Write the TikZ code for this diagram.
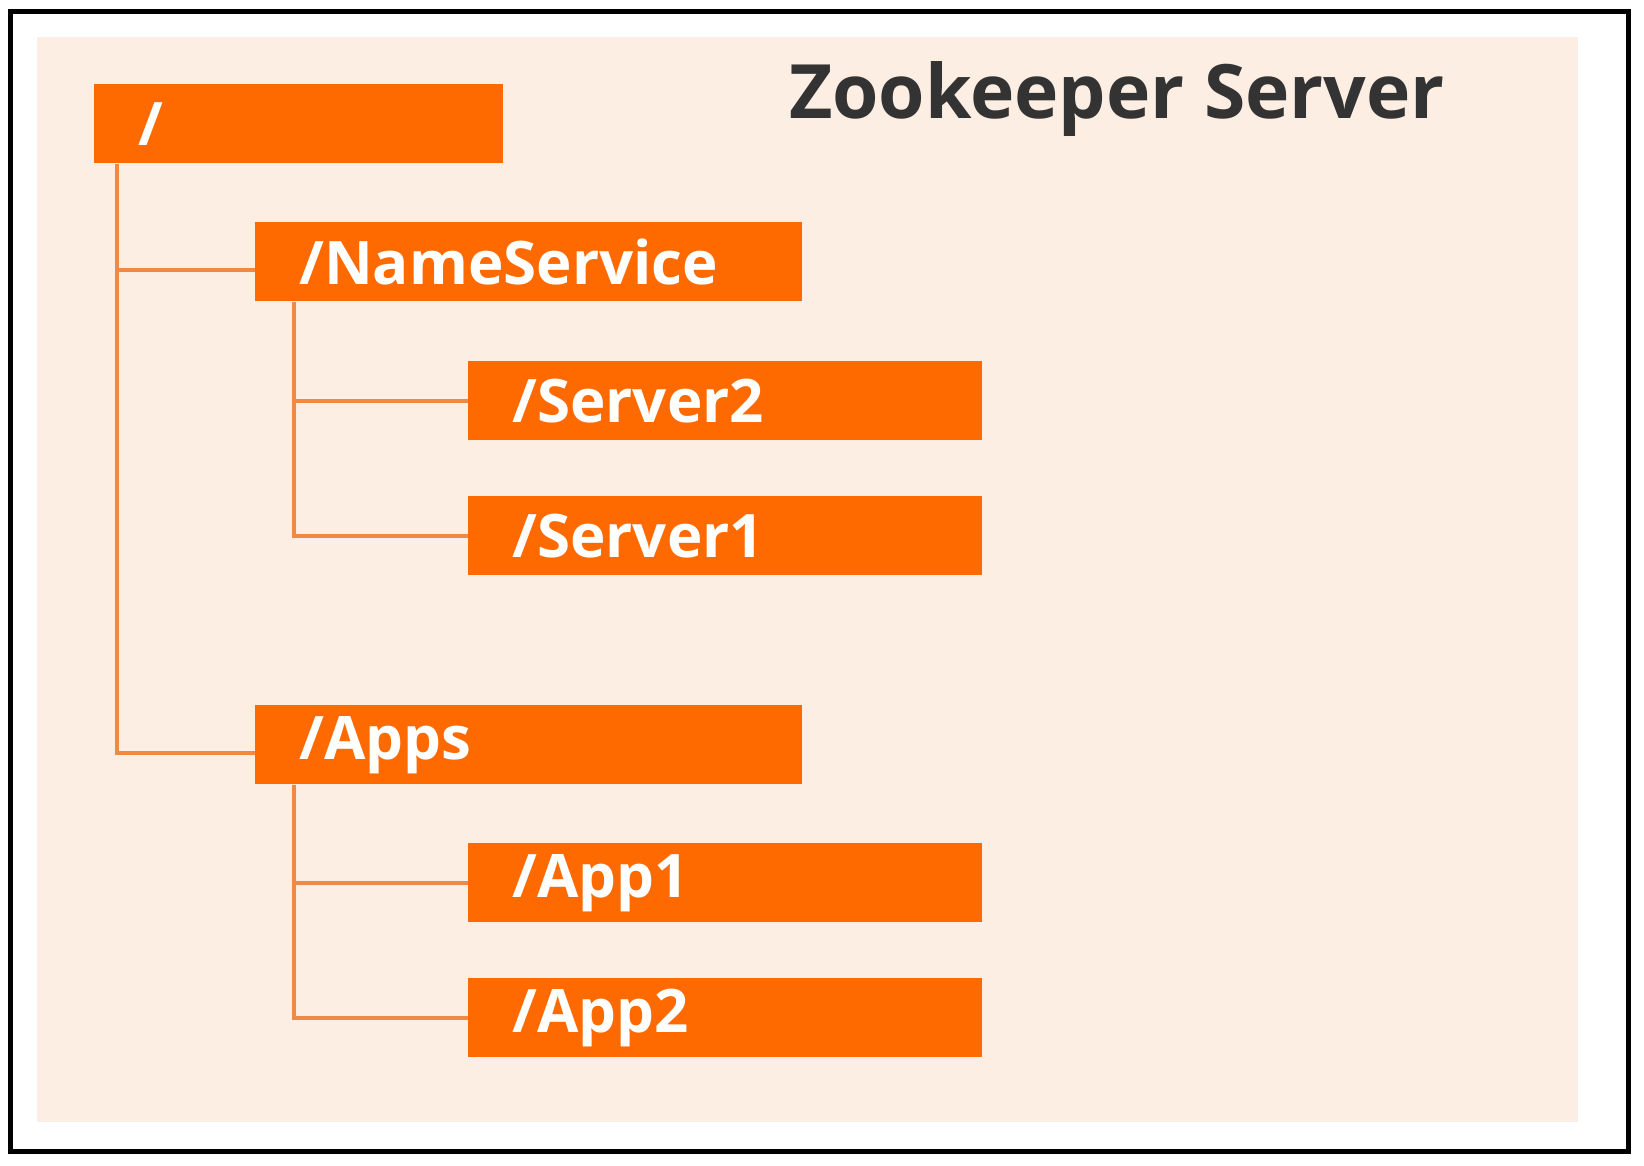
\documentclass[tikz,border=0pt]{standalone}
\usepackage{fontspec}
\setmainfont{Open Sans}
\usepackage{tikz}
\usetikzlibrary{positioning}
\definecolor{zkorange}{HTML}{FF6A00}
\definecolor{zkline}{HTML}{EE8A45}
\definecolor{zkpeach}{HTML}{FDEEE4}
\definecolor{zktext}{HTML}{333333}
\tikzset{
    znode/.style={rectangle, fill=zkorange, anchor=north west, minimum height=39.5pt, inner xsep=22pt, inner ysep=0pt, text width=#1, align=left, text=white, font=\fontsize{30}{30}\selectfont\bfseries}, % the orange znode boxes
    zline/.style={draw=zkline, line width=1.8pt}, % the tree lines
}

\begin{document}
\begin{tikzpicture}[x=0.5pt, y=-0.5pt]
            \useasboundingbox (0,0) rectangle (1644,1166);
            \fill[zkpeach] (37,37) rectangle (1578,1122);
            \draw[line width=2.5pt] (10,12) rectangle (1628,1151);

            \node[text=zktext, font=\fontsize{37.5}{37.5}\selectfont\bfseries] (title) at (1117,99) {Zookeeper Server};

            \node[znode=160.5pt] (root) at (94,84) {/};
            \node[znode=229.5pt] (ns) at (255,222) {/NameService};
            \node[znode=213pt] (srv2) at (468,361) {/Server2};
            \node[znode=213pt] (srv1) at (468,496) {/Server1};
            \node[znode=229.5pt] (apps) at (255,705) {/Apps};
            \node[znode=213pt] (app1) at (468,843) {/App1};
            \node[znode=213pt] (app2) at (468,978) {/App2};

            \draw[zline] ([xshift=11.5pt]root.south west) |- ([yshift=-4pt]ns.west);
            \draw[zline] ([xshift=11.5pt]root.south west) |- ([yshift=-4pt]apps.west);
            \draw[zline] ([xshift=19.5pt]ns.south west) |- (srv2.west);
            \draw[zline] ([xshift=19.5pt]ns.south west) |- (srv1.west);
            \draw[zline] ([xshift=19.5pt]apps.south west) |- (app1.west);
            \draw[zline] ([xshift=19.5pt]apps.south west) |- (app2.west);
        \end{tikzpicture}
\end{document}
